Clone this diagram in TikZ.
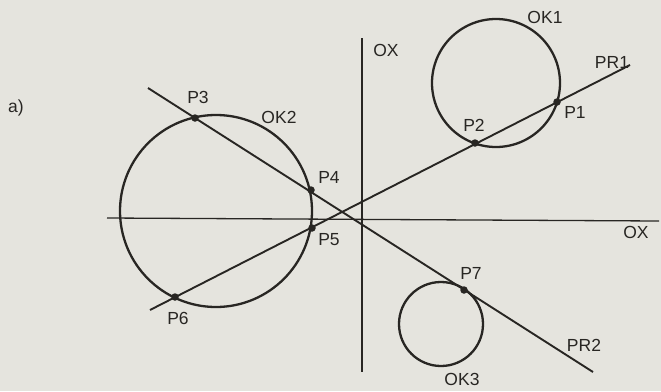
\documentclass[tikz,border=0pt]{standalone}
\usepackage{fontspec}
\setmainfont{Liberation Sans}
\begin{document}
\begin{tikzpicture}[x=1pt,y=-1pt,
  curve/.style={draw=ink,line width=2.3pt},
  ray/.style={draw=ink,line width=1.9pt},
  axis/.style={draw=ink,line width=1.3pt},
  pt/.style={circle,fill=ink,inner sep=0pt,minimum size=7.5pt},
  lbl/.style={text=ink,font=\fontsize{17.5}{20}\selectfont,inner sep=0pt}]
\definecolor{paper}{RGB}{229,228,222}
\definecolor{ink}{RGB}{40,38,35}
\fill[paper] (0,0) rectangle (661,391);
\useasboundingbox (0,0) rectangle (661,391);
% axes
\coordinate (xl) at (107,218);
\coordinate (xr) at (659,221);
\coordinate (yt) at (362,38);
\coordinate (yb) at (362,372);
\draw[axis] (xl) -- (xr);
\draw[axis] (yt) -- (yb);
% circles
\draw[curve] (216,211) circle[radius=96];
\draw[curve] (496,83) circle[radius=64];
\draw[curve] (441,324) circle[radius=42];
% lines
\coordinate (a1) at (150,310);
\coordinate (b1) at (630,65);
\coordinate (a2) at (148,88);
\coordinate (b2) at (593,372);
\draw[ray] (a1) -- (b1);
\draw[ray] (a2) -- (b2);
% points
\node[pt] (p1) at (557,102) {};
\node[pt] (p2) at (475,143) {};
\node[pt] (p3) at (195,118) {};
\node[pt] (p4) at (311,190) {};
\node[pt] (p5) at (312,228) {};
\node[pt] (p6) at (175,297) {};
\node[pt] (p7) at (464,290) {};
% labels
\node[lbl] (la) at (16,108) {a)};
\node[lbl] (l3) at (198,97) {P3};
\node[lbl] (lok2) at (279,117) {OK2};
\node[lbl] (l4) at (329,177) {P4};
\node[lbl] (l5) at (329,240) {P5};
\node[lbl] (l6) at (178,318) {P6};
\node[lbl] (loy) at (386,50) {OX};
\node[lbl] (lok1) at (545,17) {OK1};
\node[lbl] (lpr1) at (612,62) {PR1};
\node[lbl] (l1) at (575,112) {P1};
\node[lbl] (l2) at (474,125) {P2};
\node[lbl] (lox) at (636,232) {OX};
\node[lbl] (l7) at (471,273) {P7};
\node[lbl] (lpr2) at (584,345) {PR2};
\node[lbl] (lok3) at (462,379) {OK3};
\end{tikzpicture}
\end{document}
